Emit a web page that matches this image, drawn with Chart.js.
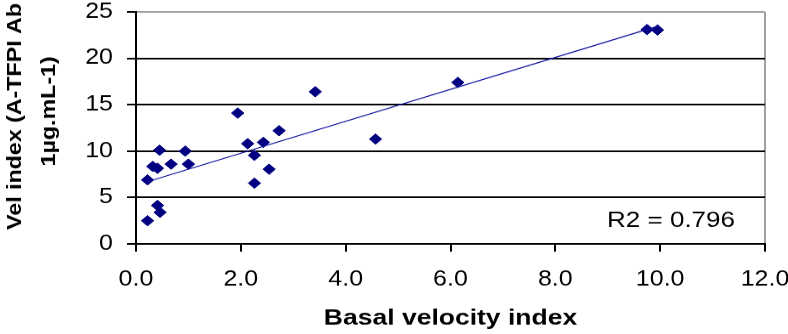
<!DOCTYPE html>
<html><head><meta charset="utf-8">
<script src="https://cdn.jsdelivr.net/npm/chart.js@4"></script>
<style>html,body{margin:0;padding:0;background:#fff;overflow:hidden}</style>
</head><body>
<canvas id="c" width="788" height="393" style="width:788px;height:334px;display:block"></canvas>
<script>
// ---- data ----
const basalVelocityIndex = [0.22, 0.22, 0.32, 0.41, 0.45, 0.67, 0.94, 1.00, 0.41, 0.46, 1.94, 2.13, 2.26, 2.43, 2.73, 2.54, 2.26, 3.42, 4.57, 6.14, 9.75, 9.95];
const velIndex           = [6.9,  2.5,  8.35, 8.15, 10.1, 8.6,  10.0, 8.6,  4.15, 3.4,  14.1, 10.8, 9.55, 10.95, 12.2, 8.05, 6.55, 16.4, 11.3, 17.4, 23.1, 23.05];
const xTickValues = [0, 2, 4, 6, 8, 10, 12];
const yTickValues = [0, 5, 10, 15, 20, 25];
const xAxisTitle = 'Basal velocity index';
const yAxisTitle = ['Vel index (A-TFPI Ab', '1µg.mL-1)'];
const r2Label = 'R2 = 0.796';

// ---- linear regression trendline from the data ----
const n = basalVelocityIndex.length;
const mx = basalVelocityIndex.reduce((s, v) => s + v, 0) / n;
const my = velIndex.reduce((s, v) => s + v, 0) / n;
let sxx = 0, sxy = 0;
for (let i = 0; i < n; i++) {
  sxx += (basalVelocityIndex[i] - mx) ** 2;
  sxy += (basalVelocityIndex[i] - mx) * (velIndex[i] - my);
}
const slope = sxy / sxx, intercept = my - slope * mx;
const xMin = Math.min(...basalVelocityIndex), xMax = Math.max(...basalVelocityIndex);
const trend = [xMin, xMax].map(x => ({x, y: intercept + slope * x}));
const points = basalVelocityIndex.map((x, i) => ({x, y: velIndex[i]}));

const FONT = '"Liberation Sans", Arial, sans-serif';

const textPlugin = {
  id: 'texts',
  afterDraw(chart) {
    const ctx = chart.ctx, a = chart.chartArea;
    ctx.save();
    ctx.fillStyle = '#000';
    ctx.font = '26px ' + FONT;
    ctx.textAlign = 'right';
    ctx.textBaseline = 'alphabetic';
    ctx.fillText(r2Label, a.right - 30, 267);
    ctx.font = 'bold 19.5px ' + FONT;
    ctx.textAlign = 'center';
    const xs = [21, 55], ys = [137, 131];
    yAxisTitle.forEach((t, i) => {
      ctx.save();
      ctx.translate(xs[i], ys[i]);
      ctx.rotate(-Math.PI / 2);
      ctx.scale(1.4, 1);
      ctx.fillText(t, 0, 0);
      ctx.restore();
    });
    ctx.restore();
  }
};

new Chart(document.getElementById('c'), {
  type: 'scatter',
  data: {
    datasets: [
      {
        type: 'line',
        data: trend,
        borderColor: '#1010a0',
        borderWidth: 1.2,
        pointRadius: 0,
        fill: false,
        tension: 0
      },
      {
        data: points,
        pointStyle: 'rectRot',
        pointRadius: 6.2,
        backgroundColor: '#000080',
        borderColor: '#000080',
        borderWidth: 1
      }
    ]
  },
  options: {
    responsive: false,
    maintainAspectRatio: false,
    devicePixelRatio: 1,
    animation: false,
    layout: {padding: {top: 14, right: 23, left: 0, bottom: 0}},
    plugins: {legend: {display: false}, tooltip: {enabled: false}},
    scales: {
      x: {
        type: 'linear',
        min: xTickValues[0], max: xTickValues[xTickValues.length - 1],
        afterBuildTicks: s => { s.ticks = xTickValues.map(v => ({value: v})); },
        afterFit: s => { s.height = 106; s.paddingLeft = 0; s.paddingRight = 0; },
        ticks: {
          autoSkip: false, maxRotation: 0, padding: 18, color: '#000',
          font: {family: FONT, size: 25},
          callback: v => Number(v).toFixed(1)
        },
        grid: {
          drawOnChartArea: true,
          color: c => (c.tick && c.tick.value === 12) ? '#a0a0a0' : 'rgba(0,0,0,0)',
          lineWidth: 2, tickLength: 9, tickColor: '#000', tickWidth: 2
        },
        border: {display: true, color: '#000', width: 2},
        title: {
          display: true, text: xAxisTitle, color: '#000',
          font: {family: FONT, size: 26.5, weight: 'bold'},
          padding: {top: 0, bottom: 2}
        }
      },
      y: {
        type: 'linear',
        min: yTickValues[0], max: yTickValues[yTickValues.length - 1],
        afterBuildTicks: s => { s.ticks = yTickValues.map(v => ({value: v})); },
        afterFit: s => { s.width = 136; s.paddingTop = 0; s.paddingBottom = 0; },
        ticks: {
          padding: 14, color: '#000',
          font: {family: FONT, size: 25}
        },
        grid: {
          color: c => (c.tick && c.tick.value === 25) ? '#a0a0a0' : '#000',
          lineWidth: 2, tickLength: 9, tickColor: '#000', tickWidth: 2
        },
        border: {display: true, color: '#000', width: 2}
      }
    }
  },
  plugins: [textPlugin]
});
</script>
</body></html>
